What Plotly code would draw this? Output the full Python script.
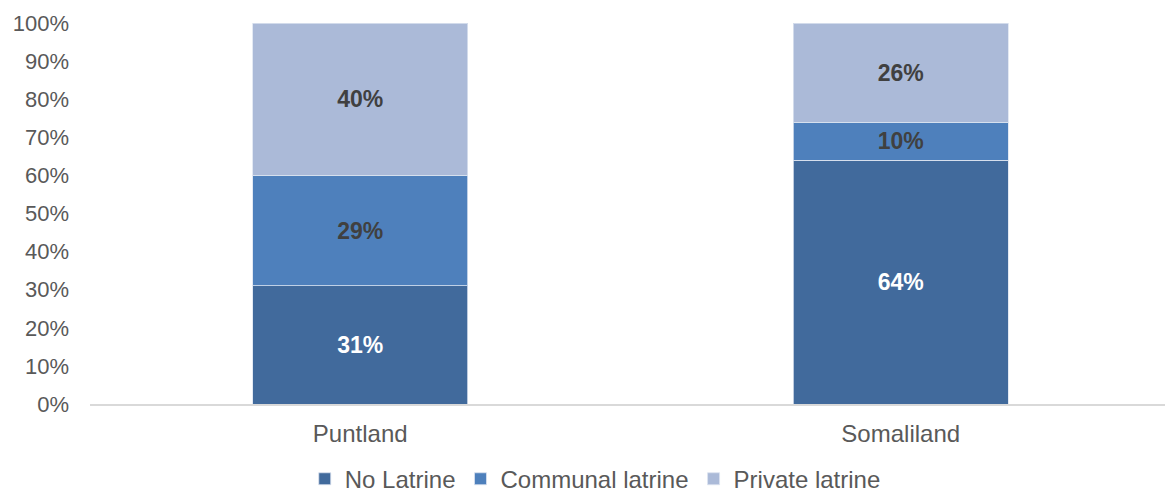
import plotly.graph_objects as go

regions = ["Puntland", "Somaliland"]
no_latrine = [31, 64]
communal_latrine = [29, 10]
private_latrine = [40, 26]
y_ticks = list(range(0, 101, 10))
y_tick_labels = [f"{v}%" for v in y_ticks]

series = [
    ("No Latrine", no_latrine, "#416a9c", "white"),
    ("Communal latrine", communal_latrine, "#4e80bc", "#404040"),
    ("Private latrine", private_latrine, "#abbad8", "#404040"),
]

FONT = "Liberation Sans, Arial, sans-serif"

fig = go.Figure()
for name, vals, color, txtcolor in series:
    fig.add_trace(go.Bar(
        name=name,
        x=regions,
        y=vals,
        width=0.398,
        marker=dict(color=color, line=dict(color="rgba(220,228,240,0.8)", width=1)),
        text=[f"<b>{v}%</b>" for v in vals],
        texttemplate="%{text}",
        textposition="inside",
        insidetextanchor="middle",
        textangle=0,
        constraintext="none",
        textfont=dict(family=FONT, size=23, color=txtcolor),
        hoverinfo="skip",
    ))

fig.update_layout(
    barmode="stack",
    width=1165,
    height=495,
    margin=dict(l=90, r=0, t=23, b=91, autoexpand=False),
    paper_bgcolor="white",
    plot_bgcolor="white",
    font=dict(family=FONT, size=24, color="#595959"),
    showlegend=True,
    legend=dict(
        orientation="h",
        x=0.47,
        xanchor="center",
        yref="container",
        y=0.032,
        yanchor="middle",
        font=dict(size=24, color="#595959"),
        traceorder="normal",
        itemwidth=30,
    ),
    xaxis=dict(
        range=[-0.5, 1.489],
        automargin=False,
        showgrid=False,
        showline=True,
        linecolor="#d9d9d9",
        linewidth=1.5,
        ticks="",
        ticklabelstandoff=7,
        tickfont=dict(size=24, color="#595959"),
    ),
    yaxis=dict(
        range=[0, 100],
        automargin=False,
        tickvals=y_ticks,
        ticktext=y_tick_labels,
        showgrid=False,
        zeroline=False,
        showline=False,
        ticks="",
        ticklabelstandoff=20,
        tickfont=dict(size=22, color="#595959"),
    ),
)

fig.write_html("out.html")
